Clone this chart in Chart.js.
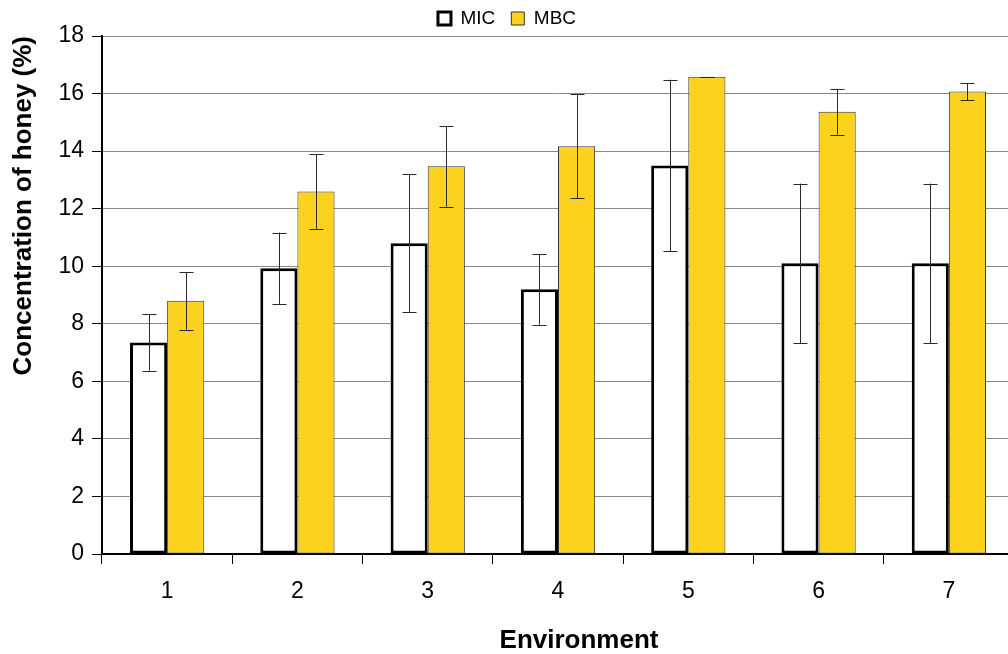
<!DOCTYPE html>
<html>
<head>
<meta charset="utf-8">
<script src="https://cdn.jsdelivr.net/npm/chart.js@4/dist/chart.umd.min.js"></script>
<style>
html, body { margin: 0; padding: 0; overflow: hidden; background: #fff; }
#wrap { width: 1014px; height: 654px; }
</style>
</head>
<body>
<div id="wrap"><canvas id="c" width="1014" height="654"></canvas></div>
<script>
const categories = ['1', '2', '3', '4', '5', '6', '7'];
const micValues = [7.35, 9.93, 10.8, 9.2, 13.5, 10.1, 10.1];
const micErrors = [0.98, 1.24, 2.4, 1.23, 2.98, 2.77, 2.77];
const mbcValues = [8.8, 12.6, 13.47, 14.17, 16.58, 15.37, 16.07];
const mbcErrors = [1.0, 1.3, 1.4, 1.8, 0, 0.8, 0.3];
const yTicks = [0, 2, 4, 6, 8, 10, 12, 14, 16, 18];
const xTitle = 'Environment';
const yTitle = 'Concentration of honey (%)';

const FONT = "'Liberation Sans', Arial, sans-serif";
Chart.defaults.font.family = FONT;
Chart.defaults.color = '#000';

const errorBars = {
  id: 'errorBars',
  afterDatasetsDraw(chart) {
    const ctx = chart.ctx;
    const y = chart.scales.y;
    chart.data.datasets.forEach((ds, i) => {
      const meta = chart.getDatasetMeta(i);
      meta.data.forEach((el, j) => {
        const v = ds.data[j], e = ds.errors[j];
        const top = y.getPixelForValue(v + e);
        const bot = y.getPixelForValue(v - e);
        const x = Math.round(el.x) + 0.5;
        ctx.save();
        ctx.strokeStyle = '#2a2a2a';
        ctx.lineWidth = 1;
        ctx.beginPath();
        ctx.moveTo(x, top); ctx.lineTo(x, bot);
        ctx.moveTo(x - 7, Math.round(top) + 0.5); ctx.lineTo(x + 7, Math.round(top) + 0.5);
        ctx.moveTo(x - 7, Math.round(bot) + 0.5); ctx.lineTo(x + 7, Math.round(bot) + 0.5);
        ctx.stroke();
        ctx.restore();
      });
    });
  }
};

// x-axis title, centred a little right of the plot centre as in the original
const xTitlePlugin = {
  id: 'xTitlePlugin',
  afterDraw(chart) {
    const ctx = chart.ctx;
    const a = chart.chartArea;
    ctx.save();
    ctx.font = "bold 26px " + FONT;
    ctx.fillStyle = '#000';
    ctx.textAlign = 'center';
    ctx.textBaseline = 'middle';
    ctx.fillText(xTitle, (a.left + a.right) / 2 + 21, chart.height - 13);
    ctx.restore();
  }
};

new Chart(document.getElementById('c'), {
  type: 'bar',
  data: {
    labels: categories,
    datasets: [
      {
        label: 'MIC',
        data: micValues,
        errors: micErrors,
        backgroundColor: '#ffffff',
        borderColor: '#000000',
        borderWidth: 3,
        borderSkipped: false,
        categoryPercentage: 0.57,
        barPercentage: 1.0
      },
      {
        label: 'MBC',
        data: mbcValues,
        errors: mbcErrors,
        backgroundColor: '#FDD21F',
        borderColor: '#333333',
        borderWidth: 1,
        borderSkipped: false,
        categoryPercentage: 0.57,
        barPercentage: 1.0
      }
    ]
  },
  options: {
    responsive: false,
    animation: false,
    devicePixelRatio: 1,
    layout: { padding: { left: 0, right: 0, top: -7, bottom: 0 } },
    plugins: {
      tooltip: { enabled: false },
      legend: {
        position: 'top',
        maxHeight: 43,
        labels: {
          boxWidth: 13,
          boxHeight: 13,
          padding: 16,
          font: { size: 19, family: FONT },
          color: '#000'
        }
      }
    },
    scales: {
      x: {
        grid: {
          offset: true,
          drawOnChartArea: false,
          drawTicks: true,
          tickLength: 10,
          tickColor: '#000',
          tickWidth: 1
        },
        border: { color: '#000', width: 2 },
        ticks: { font: { size: 23 }, padding: 14, color: '#000' },
        title: { display: false },
        afterFit(scale) { scale.height = 100; }
      },
      y: {
        min: 0,
        max: 18,
        afterBuildTicks(scale) { scale.ticks = yTicks.map(v => ({ value: v })); },
        grid: {
          color: '#8a8a8a',
          lineWidth: 1,
          drawTicks: true,
          tickLength: 10,
          tickColor: '#000'
        },
        border: { color: '#000', width: 2 },
        ticks: { font: { size: 23 }, padding: 8, color: '#000' },
        title: {
          display: true,
          text: yTitle,
          align: 'end',
          font: { size: 26, weight: 'bold' },
          color: '#000',
          padding: { top: 8, bottom: 0 }
        },
        afterFit(scale) { scale.width = 102; }
      }
    }
  },
  plugins: [errorBars, xTitlePlugin]
});
</script>
</body>
</html>
